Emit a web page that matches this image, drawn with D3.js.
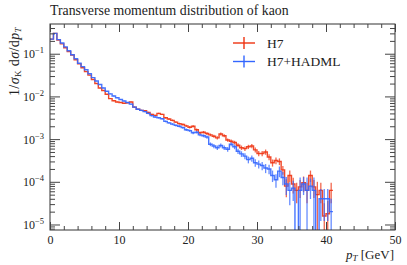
<!DOCTYPE html>
<html>
<head>
<meta charset="utf-8">
<script src="https://cdn.jsdelivr.net/npm/d3@7"></script>
<style>
  body { margin: 0; background: #fff; }
  text { font-family: "Liberation Serif", "DejaVu Serif", serif; fill: #222; }
</style>
</head>
<body>
<div id="wrapper"></div>
<script>
// bin edges: 0.5 GeV bins from 0 to 41 GeV
const binWidth = 0.5
const nBins = 82

// H7 (red)
const h7Values = [
  2.2e-1, 3.0e-1, 2.1e-1, 1.7e-1, 1.38e-1, 1.12e-1, 9.3e-2, 7.2e-2, 5.8e-2, 4.7e-2,
  3.8e-2, 3.16e-2, 2.5e-2, 2.0e-2, 1.58e-2, 1.38e-2, 1.12e-2, 8.9e-3, 7.9e-3, 7.4e-3,
  7.2e-3, 6.9e-3, 7.1e-3, 7.4e-3, 5.6e-3, 5.0e-3, 4.7e-3, 4.6e-3, 4.2e-3, 3.8e-3,
  3.6e-3, 4.0e-3, 3.8e-3, 3.16e-3, 2.95e-3, 2.75e-3, 2.5e-3, 2.3e-3, 2.2e-3, 2.04e-3,
  1.9e-3, 2.0e-3, 1.66e-3, 1.41e-3, 1.45e-3, 1.35e-3, 1.26e-3, 1.17e-3, 1.07e-3, 1.32e-3,
  1.2e-3, 9.5e-4, 8.9e-4, 8.3e-4, 7.2e-4, 6.3e-4, 6.0e-4, 6.6e-4, 6.9e-4, 5.6e-4,
  4.6e-4, 4.6e-4, 5.0e-4, 3.8e-4, 2.8e-4, 3.16e-4, 3.0e-4, 1.9e-4, 7.9e-5, 1.41e-4,
  8.9e-5, 6.3e-5, 7.6e-5, 9.5e-5, 6.3e-5, 1.41e-4, 7.6e-5, 5.0e-5, 6.3e-5, 1.58e-5,
  1.78e-5, 6.3e-5
]
// relative uncertainties
const h7RelErr = [
  0.005, 0.005, 0.005, 0.005, 0.006, 0.006, 0.007, 0.008, 0.009, 0.01,
  0.011, 0.012, 0.013, 0.015, 0.016, 0.018, 0.02, 0.022, 0.024, 0.025,
  0.026, 0.027, 0.027, 0.026, 0.03, 0.032, 0.033, 0.034, 0.036, 0.038,
  0.04, 0.038, 0.04, 0.045, 0.047, 0.05, 0.052, 0.055, 0.057, 0.06,
  0.062, 0.06, 0.066, 0.072, 0.07, 0.073, 0.075, 0.08, 0.085, 0.075,
  0.08, 0.09, 0.095, 0.1, 0.11, 0.12, 0.12, 0.115, 0.11, 0.13,
  0.14, 0.14, 0.14, 0.16, 0.19, 0.18, 0.18, 0.23, 0.45, 0.3,
  0.4, 0.5, 0.45, 0.4, 0.5, 0.3, 0.45, 1.0, 0.5, 1.0,
  1.0, 0.5
]

// H7+HADML (blue)
const hadmlValues = [
  2.2e-1, 3.0e-1, 2.14e-1, 1.78e-1, 1.45e-1, 1.17e-1, 9.5e-2, 7.6e-2, 6.0e-2, 5.0e-2,
  4.2e-2, 3.4e-2, 2.75e-2, 2.3e-2, 1.9e-2, 1.58e-2, 1.32e-2, 1.15e-2, 1.02e-2, 9.3e-3,
  8.5e-3, 7.8e-3, 7.2e-3, 6.6e-3, 5.6e-3, 5.0e-3, 4.7e-3, 4.4e-3, 4.0e-3, 3.55e-3,
  3.3e-3, 3.16e-3, 3.0e-3, 2.6e-3, 2.4e-3, 2.24e-3, 2.1e-3, 2.0e-3, 1.86e-3, 1.66e-3,
  1.58e-3, 1.41e-3, 1.45e-3, 1.26e-3, 1.2e-3, 1.12e-3, 7.6e-4, 6.9e-4, 6.3e-4, 7.1e-4,
  6.3e-4, 5.8e-4, 7.6e-4, 6.6e-4, 5.2e-4, 4.5e-4, 4.0e-4, 3.3e-4, 3.55e-4, 2.8e-4,
  2.6e-4, 2.4e-4, 2.1e-4, 2.0e-4, 1.41e-4, 1.12e-4, 1.78e-4, 1.26e-4, 8.9e-5, 6.3e-5,
  7.1e-5, 0, 6.3e-5, 8.9e-5, 6.3e-5, 7.9e-5, 6.3e-5, 0, 4.0e-5, 4.0e-5,
  4.0e-5, 2.0e-5
]
const hadmlRelErr = [
  0.005, 0.005, 0.005, 0.005, 0.006, 0.006, 0.007, 0.008, 0.009, 0.01,
  0.011, 0.012, 0.013, 0.015, 0.016, 0.018, 0.02, 0.022, 0.024, 0.025,
  0.026, 0.027, 0.028, 0.03, 0.032, 0.034, 0.035, 0.036, 0.038, 0.04,
  0.042, 0.044, 0.045, 0.05, 0.052, 0.055, 0.057, 0.06, 0.062, 0.066,
  0.068, 0.072, 0.07, 0.077, 0.08, 0.085, 0.1, 0.11, 0.12, 0.11,
  0.12, 0.13, 0.11, 0.12, 0.14, 0.15, 0.16, 0.18, 0.17, 0.2,
  0.21, 0.22, 0.24, 0.25, 0.3, 0.35, 0.28, 0.34, 0.45, 0.55,
  0.5, 0, 1.0, 0.45, 1.0, 0.5, 1.0, 0, 0.7, 0.7,
  0.7, 1.0
]

const xTickValues = [0, 10, 20, 30, 40, 50]
const yTickExponents = [-1, -2, -3, -4, -5]

const seriesNames = ["H7", "H7+HADML"]
const seriesColors = ["#ee3311", "#3366ff"]

let dimensions = {
  width: 407,
  height: 265,
  margin: { top: 24, right: 12, bottom: 35, left: 50 },
}
dimensions.boundedWidth = dimensions.width - dimensions.margin.left - dimensions.margin.right
dimensions.boundedHeight = dimensions.height - dimensions.margin.top - dimensions.margin.bottom

const wrapper = d3.select("#wrapper")
  .append("svg")
    .attr("width", dimensions.width)
    .attr("height", dimensions.height)

const bounds = wrapper.append("g")
  .attr("transform", `translate(${dimensions.margin.left},${dimensions.margin.top})`)

const xScale = d3.scaleLinear()
  .domain([0, 50])
  .range([0, dimensions.boundedWidth])

const yScale = d3.scaleLog()
  .domain([7.43e-6, 0.497])
  .range([dimensions.boundedHeight, 0])

const yOf = v => v > 0 ? yScale(v) : dimensions.boundedHeight + 5

bounds.append("clipPath").attr("id", "clip")
  .append("rect")
    .attr("width", dimensions.boundedWidth)
    .attr("height", dimensions.boundedHeight)

const plotArea = bounds.append("g").attr("clip-path", "url(#clip)")

const series = [
  { values: h7Values, relErr: h7RelErr },
  { values: hadmlValues, relErr: hadmlRelErr },
]

series.forEach((s, si) => {
  const color = seriesColors[si]
  const pts = s.values.map((v, i) => [i * binWidth, v])
  pts.push([nBins * binWidth, s.values[nBins - 1]])

  const lineGenerator = d3.line()
    .x(d => xScale(d[0]))
    .y(d => yOf(d[1]))
    .curve(d3.curveStepAfter)

  // error bars
  plotArea.append("g")
    .selectAll("line")
    .data(s.values.map((v, i) => ({ x: (i + 0.5) * binWidth, v, e: v * s.relErr[i] })))
    .join("line")
      .attr("x1", d => xScale(d.x))
      .attr("x2", d => xScale(d.x))
      .attr("y1", d => yOf(d.v - d.e))
      .attr("y2", d => yOf(d.v + d.e))
      .attr("stroke", color)
      .attr("stroke-width", 1.3)
      .attr("stroke-opacity", 0.75)

  plotArea.append("path")
    .attr("d", lineGenerator(pts))
    .attr("fill", "none")
    .attr("stroke", color)
    .attr("stroke-width", 1.4)
    .attr("stroke-opacity", 0.9)
})

// frame
bounds.append("rect")
  .attr("width", dimensions.boundedWidth)
  .attr("height", dimensions.boundedHeight)
  .attr("fill", "none")
  .attr("stroke", "#333")
  .attr("stroke-width", 1)

const tickColor = "#444"

// x ticks (inward, bottom and top)
const xMinor = d3.range(0, 51, 2).filter(v => v % 10 !== 0)
const xAxisBottom = d3.axisBottom(xScale).tickValues(xTickValues).tickSize(-8).tickFormat(d => d)
const xAxisTop = d3.axisTop(xScale).tickValues(xTickValues).tickSize(-8).tickFormat("")
const gxb = bounds.append("g").attr("transform", `translate(0,${dimensions.boundedHeight})`).call(xAxisBottom)
bounds.append("g").attr("transform", `translate(0,${dimensions.boundedHeight})`)
  .call(d3.axisBottom(xScale).tickValues(xMinor).tickSize(-4).tickFormat(""))
bounds.append("g").call(xAxisTop)
bounds.append("g").call(d3.axisTop(xScale).tickValues(xMinor).tickSize(-4).tickFormat(""))
gxb.selectAll("text")
  .attr("y", 5)
  .style("font-size", "12px")
  .style("font-family", "'Liberation Serif', serif")

// y ticks (inward, left and right)
const yMajor = yTickExponents.map(e => Math.pow(10, e))
const yMinor = []
for (let e = -6; e <= 0; e++) {
  for (let m = 2; m <= 9; m++) {
    const v = m * Math.pow(10, e)
    if (v > yScale.domain()[0] && v < yScale.domain()[1]) yMinor.push(v)
  }
}
bounds.append("g")
  .call(d3.axisLeft(yScale).tickValues(yMajor).tickSize(-10).tickFormat(""))
bounds.append("g").call(d3.axisLeft(yScale).tickValues(yMinor).tickSize(-5).tickFormat(""))
bounds.append("g").attr("transform", `translate(${dimensions.boundedWidth},0)`)
  .call(d3.axisRight(yScale).tickValues(yMajor).tickSize(-10).tickFormat(""))
bounds.append("g").attr("transform", `translate(${dimensions.boundedWidth},0)`)
  .call(d3.axisRight(yScale).tickValues(yMinor).tickSize(-5).tickFormat(""))

bounds.selectAll(".domain").remove()
bounds.selectAll(".tick line").attr("stroke", tickColor)

// y tick labels 10^n
const yLabels = bounds.append("g")
yTickExponents.forEach(e => {
  const t = yLabels.append("text")
    .attr("x", -6)
    .attr("y", yScale(Math.pow(10, e)) + 4.5)
    .attr("text-anchor", "end")
    .style("font-size", "12px")
  t.append("tspan").text("10")
  t.append("tspan").attr("dy", -5).style("font-size", "8.5px").text("\u2212" + Math.abs(e))
})

// title
wrapper.append("text")
  .attr("x", dimensions.margin.left)
  .attr("y", 15)
  .style("font-size", "13.8px")
  .text("Transverse momentum distribution of kaon")

// x label
const xl = wrapper.append("text")
  .attr("x", dimensions.margin.left + dimensions.boundedWidth - 1)
  .attr("y", 259)
  .attr("text-anchor", "end")
  .style("font-size", "13px")
xl.append("tspan").style("font-style", "italic").text("p")
xl.append("tspan").attr("dy", 2).style("font-size", "9px").style("font-style", "italic").text("T")
xl.append("tspan").attr("dy", -2).text(" [GeV]")

// y label
const yl = wrapper.append("text")
  .attr("transform", "translate(19,27) rotate(-90)")
  .attr("text-anchor", "end")
  .style("font-size", "14px")
  .style("letter-spacing", "0.4px")
yl.append("tspan").text("1/")
yl.append("tspan").style("font-style", "italic").text("σ")
yl.append("tspan").attr("dy", 2).style("font-size", "9px").text("K")
yl.append("tspan").attr("dy", -2).text(" d")
yl.append("tspan").style("font-style", "italic").text("σ")
yl.append("tspan").text("/d")
yl.append("tspan").style("font-style", "italic").text("p")
yl.append("tspan").attr("dy", 2).style("font-size", "9px").style("font-style", "italic").text("T")

// legend
const legend = wrapper.append("g")
seriesNames.forEach((name, i) => {
  const ly = 43 + i * 18.5
  const g = legend.append("g")
  g.append("line")
    .attr("x1", 233).attr("x2", 255).attr("y1", ly).attr("y2", ly)
    .attr("stroke", seriesColors[i]).attr("stroke-width", 1.4)
  g.append("line")
    .attr("x1", 244).attr("x2", 244).attr("y1", ly - 6).attr("y2", ly + 6)
    .attr("stroke", seriesColors[i]).attr("stroke-width", 1.4)
  g.append("text")
    .attr("x", 267).attr("y", ly + 4.5)
    .style("font-size", "13.5px")
    .text(name)
})
</script>
</body>
</html>
